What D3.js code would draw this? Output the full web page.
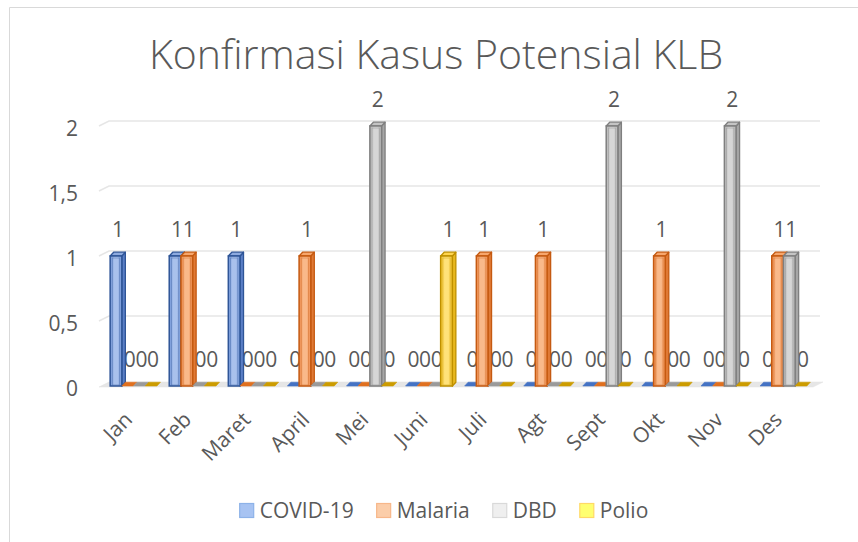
<!DOCTYPE html>
<html>
<head>
<meta charset="utf-8">
<script src="https://cdn.jsdelivr.net/npm/d3@7/dist/d3.min.js"></script>
<style>
  html, body { margin: 0; padding: 0; background: #ffffff; }
  svg { display: block; font-family: "Open Sans", "Noto Sans", sans-serif; }
</style>
</head>
<body>
<svg id="chart" width="858" height="542"></svg>
<script>
const months = ["Jan","Feb","Maret","April","Mei","Juni","Juli","Agt","Sept","Okt","Nov","Des"];
const covid   = [1,1,1,0,0,0,0,0,0,0,0,0];
const malaria = [0,1,0,1,0,0,1,1,0,1,0,1];
const dbd     = [0,0,0,0,2,0,0,0,2,0,2,1];
const polio   = [0,0,0,0,0,1,0,0,0,0,0,0];
const seriesNames = ["COVID-19","Malaria","DBD","Polio"];
const yTicks = [0, 0.5, 1, 1.5, 2];
const titleText = "Konfirmasi Kasus Potensial KLB";

const seriesValues = [covid, malaria, dbd, polio];
const styles = [
  {edge:"#2f5597", mid:"#6f93d6", light:"#a9c1ec", side:"#5b7fc6", top:"#8eabe0", flat:"#4472c4", legFill:"#a7c3f2", legStroke:"#8db2e8"},
  {edge:"#c55a11", mid:"#ee8a4a", light:"#f9b98a", side:"#e07a36", top:"#f7a66c", flat:"#e0701f", legFill:"#fbcda9", legStroke:"#f7b78a"},
  {edge:"#7f7f7f", mid:"#b3b3b3", light:"#d6d6d6", side:"#a6a6a6", top:"#c4c4c4", flat:"#9a9a9a", legFill:"#efefef", legStroke:"#d9d9d9"},
  {edge:"#bf9000", mid:"#f5c62e", light:"#ffe27a", side:"#e8b820", top:"#ffd54f", flat:"#cc9c00", legFill:"#ffff70", legStroke:"#ffd966"}
];
const textColor = "#595959";

const svg = d3.select("#chart");

// chart border
svg.append("path").attr("d", "M9.5,542 L9.5,7.5 L858,7.5")
  .attr("fill","none").attr("stroke","#d9d9d9").attr("stroke-width",1);

// defs gradients
const defs = svg.append("defs");
styles.forEach((s,i) => {
  const g = defs.append("linearGradient").attr("id","g"+i).attr("x1","0").attr("x2","1").attr("y1","0").attr("y2","0");
  g.append("stop").attr("offset","0%").attr("stop-color", s.mid);
  g.append("stop").attr("offset","35%").attr("stop-color", s.light);
  g.append("stop").attr("offset","65%").attr("stop-color", s.light);
  g.append("stop").attr("offset","100%").attr("stop-color", s.mid);
});

// scales
const x = d3.scaleBand().domain(months).range([104, 813]).paddingInner(0.208).paddingOuter(0.104);
const xs = d3.scaleBand().domain(d3.range(4)).range([0, x.bandwidth()]).padding(0);
const y = d3.scaleLinear().domain([0, 2]).range([386, 126]);
const dx = 3.5, dy = -3.8;
const wallDx = 10, wallDy = -5;

// title
svg.append("text").attr("x", 436).attr("y", 69).attr("text-anchor","middle")
  .attr("font-size", 41).attr("fill", "#595959").attr("font-weight", 300).text(titleText);

// floor
const x0 = x.range()[0] - 5, x1 = x.range()[1];
svg.append("path")
  .attr("d", `M${x0},${y(0)+1} L${x1},${y(0)+1} L${x1+wallDx},${y(0)+1+wallDy} L${x0+wallDx},${y(0)+1+wallDy} Z`)
  .attr("fill","#e6e6e6").attr("stroke","#e0e0e0").attr("stroke-width",0.5);

// gridlines (back wall + side wall slant)
yTicks.filter(v => v > 0).forEach(v => {
  const yy = y(v);
  svg.append("path")
    .attr("d", `M${x0},${yy} L${x0+wallDx},${yy+wallDy} L${x1+7},${yy+wallDy}`)
    .attr("fill","none").attr("stroke","#e6e6e6").attr("stroke-width",1.6);
});

// y axis labels
const fmt = d3.formatLocale({decimal:",", thousands:".", grouping:[3], currency:["",""]}).format("~g");
const yAxis = d3.axisLeft(y).tickValues(yTicks).tickSize(0).tickPadding(0).tickFormat(fmt);
const ya = svg.append("g").attr("transform","translate(78,2.5)").call(yAxis);
ya.select(".domain").remove();
ya.selectAll("text").attr("font-size", 21).attr("fill", textColor)
  .attr("font-family", '"Open Sans", sans-serif');

// x axis labels
const xAxis = d3.axisBottom(x).tickSize(0).tickPadding(0);
const xa = svg.append("g").call(xAxis);
xa.select(".domain").remove();
xa.selectAll(".tick").each(function(d){
  d3.select(this).attr("transform", `translate(${x(d) + x.bandwidth()/2},421)`);
});
xa.selectAll("text").attr("font-size", 21).attr("fill", textColor)
  .attr("font-family", '"Open Sans", sans-serif')
  .attr("text-anchor","end").attr("dy", 0).attr("y", 0).attr("x", 0)
  .attr("transform","rotate(-45)");

// data: flatten
const data = [];
months.forEach((m, i) => {
  seriesValues.forEach((arr, s) => {
    data.push({m, s, v: arr[i]});
  });
});

// labels (drawn beneath bars)
svg.append("g").selectAll("text").data(data).join("text")
  .attr("x", d => x(d.m) + xs(d.s) + xs.bandwidth()/2 + 2)
  .attr("y", d => y(d.v) - 19)
  .attr("text-anchor","middle").attr("font-size", 21).attr("fill", textColor)
  .text(d => fmt(d.v));

// bars
const bars = svg.append("g");
data.forEach(d => {
  const st = styles[d.s];
  const bx = x(d.m) + xs(d.s), bw = xs.bandwidth();
  const yt = y(d.v), yb = y(0);
  const g = bars.append("g");
  if (d.v === 0) {
    g.append("path")
      .attr("d", `M${bx},${yb} L${bx+bw},${yb} L${bx+bw+dx},${yb+dy} L${bx+dx},${yb+dy} Z`)
      .attr("fill", st.flat).attr("stroke", st.flat).attr("stroke-width",0.6);
  } else {
    g.append("path")
      .attr("d", `M${bx+bw},${yt} L${bx+bw+dx},${yt+dy} L${bx+bw+dx},${yb+dy} L${bx+bw},${yb} Z`)
      .attr("fill", st.side).attr("stroke", st.edge).attr("stroke-width",1.3).attr("stroke-linejoin","round");
    g.append("path")
      .attr("d", `M${bx},${yt} L${bx+dx},${yt+dy} L${bx+bw+dx},${yt+dy} L${bx+bw},${yt} Z`)
      .attr("fill", st.top).attr("stroke", st.edge).attr("stroke-width",1.3).attr("stroke-linejoin","round");
    g.append("rect").attr("x", bx).attr("y", yt).attr("width", bw).attr("height", yb - yt)
      .attr("fill", `url(#g${d.s})`).attr("stroke", st.edge).attr("stroke-width",1.5);
    g.append("rect").attr("x", bx+2.2).attr("y", yt+2).attr("width", bw-4.4).attr("height", yb - yt - 3)
      .attr("fill","none").attr("stroke", st.edge).attr("stroke-opacity",0.45).attr("stroke-width",0.8);
  }
});

// legend
const leg = svg.append("g");
const sw = 15, gapText = 5, gapItem = 23;
const items = [];
seriesNames.forEach((n, i) => {
  const g = leg.append("g");
  g.append("rect").attr("x", 0).attr("y", -sw/2).attr("width", sw-1).attr("height", sw-1)
    .attr("fill", styles[i].legFill).attr("stroke", styles[i].legStroke).attr("stroke-width",1.2);
  const t = g.append("text").attr("x", sw + gapText).attr("y", 0).attr("dy","0.35em")
    .attr("font-size", 21).attr("fill", textColor).text(n);
  const tw = t.node().getComputedTextLength();
  items.push({g, w: sw + gapText + tw});
});
const total = d3.sum(items, d => d.w) + gapItem * (items.length - 1);
let pos = 444 - total/2;
items.forEach(it => {
  it.g.attr("transform", `translate(${pos},511)`);
  pos += it.w + gapItem;
});
</script>
</body>
</html>
